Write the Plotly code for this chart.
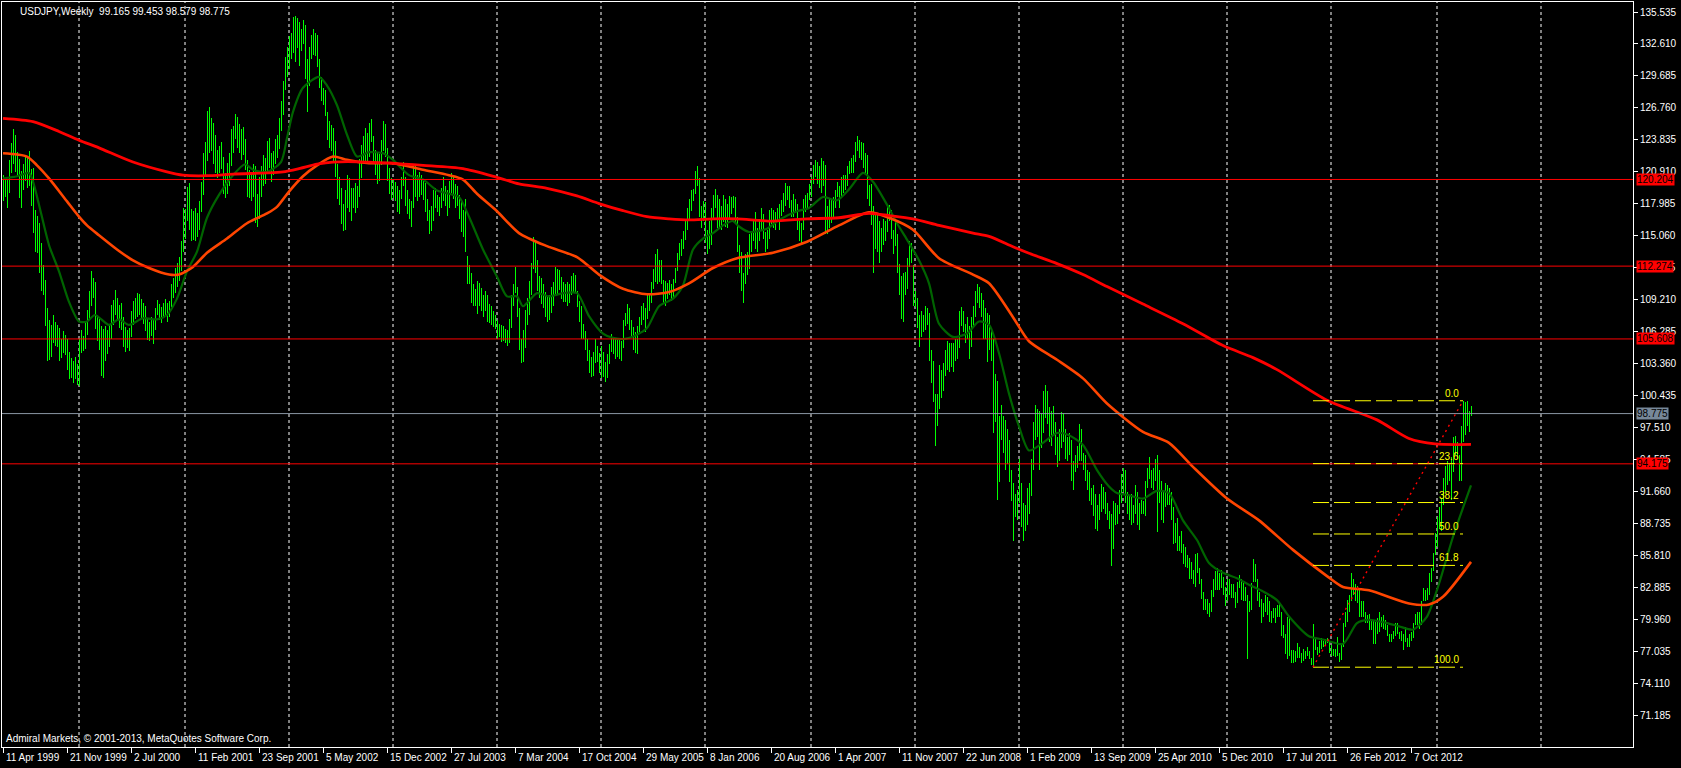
import numpy as np
import pandas as pd
import plotly.graph_objects as go

FIRST_BAR = "1999-04-11"
TITLE_TEXT = "USDJPY,Weekly  99.165 99.453 98.579 98.775"
COPYRIGHT_TEXT = "Admiral Markets, \u00a9 2001-2013, MetaQuotes Software Corp."

# ---------------- weekly highs / lows (one value per weekly bar) ----------------
high_1999 = [120.6,120.3,120.2,122.0,123.5,124.8,124.3,122.7,122.1,121.0,121.6,122.4,122.3,122.8,121.2,121.3,117.4,116.9,116.2,114.4,112.4,111.0,108.4,107.3,106.9,107.8,107.2,106.9,106.6,105.6,106.3,106.0,105.6,104.4,103.9,103.6,104.0,103.3]
low_1999 = [118.2,118.6,117.6,119.0,120.8,121.6,120.9,120.6,118.5,117.6,119.2,120.1,119.4,119.6,117.8,115.3,113.6,113.5,111.6,110.0,109.6,106.8,103.6,103.7,104.0,105.2,105.0,104.9,103.6,103.9,104.3,104.1,102.8,101.9,102.0,101.6,101.9,101.4]
high_2000 = [105.6,106.4,105.9,107.2,108.3,110.0,111.8,111.2,110.8,107.8,107.4,106.8,106.5,106.8,106.4,106.9,108.7,109.2,110.1,109.4,108.7,108.9,107.6,106.7,106.4,106.6,108.2,109.1,109.4,109.8,109.7,109.3,108.9,108.6,107.4,107.2,107.6,107.3,108.4,109.2,108.8,108.5,108.9,109.3,108.9,109.1,110.6,111.2,112.1,112.6,113.1,114.6,117.6]
low_2000 = [101.3,104.3,104.5,104.7,106.0,107.3,108.6,109.4,106.5,105.4,104.6,102.2,102.0,103.6,104.2,104.9,105.6,106.9,107.8,107.4,106.6,106.4,104.9,104.4,104.8,104.5,105.8,106.9,107.4,107.6,107.8,107.4,107.0,106.3,105.5,105.4,105.9,105.1,106.4,107.8,107.3,107.1,107.5,107.7,107.2,107.6,108.5,109.4,109.8,110.4,110.9,111.8,113.6]
high_2001 = [117.5,119.5,119.9,117.5,117.3,117.6,117.1,118.2,120.0,122.6,123.6,126.5,126.8,125.8,125.4,124.3,122.9,123.3,123.6,122.3,120.8,121.7,122.6,124.8,125.1,126.2,125.9,125.3,124.8,125.0,123.9,122.0,121.1,120.9,121.6,121.4,118.9,120.4,121.4,122.4,122.2,123.7,124.0,122.6,122.8,123.9,124.3,125.8,127.4,129.2,131.4,132.3]
low_2001 = [114.8,116.4,115.6,114.6,114.7,114.6,114.9,115.6,117.2,118.8,120.6,121.9,122.6,122.8,121.6,120.8,120.3,120.8,121.2,118.9,118.5,118.9,119.6,121.4,122.6,123.9,123.1,122.6,122.0,122.4,121.1,118.6,118.5,118.2,118.6,116.2,115.9,116.6,118.6,119.6,119.8,120.9,121.3,120.0,120.6,121.6,122.2,123.0,124.6,126.1,128.4,129.6]
high_2002 = [133.3,133.6,135.1,135.2,135.0,134.6,134.0,134.8,134.3,131.2,132.3,133.4,134.0,133.6,133.4,131.2,129.6,128.6,128.4,126.4,125.6,125.2,124.9,123.7,121.6,120.4,119.4,118.0,119.2,120.6,120.3,119.4,119.4,119.9,119.6,122.1,123.4,124.2,124.9,124.5,125.4,125.7,124.2,122.9,122.6,122.5,123.8,125.6,125.3,123.1,121.3,120.3]
low_2002 = [130.3,131.2,131.8,131.0,132.2,130.6,132.0,132.6,129.4,126.4,128.8,131.2,131.6,131.5,130.5,128.6,127.4,127.0,126.0,123.8,123.1,122.8,121.9,120.4,118.4,117.9,116.1,115.5,115.6,117.6,117.2,116.4,117.6,117.1,117.6,118.6,120.3,121.6,121.8,121.6,122.3,123.6,121.6,120.6,119.8,120.1,121.5,122.8,122.3,120.1,118.9,118.3]
high_2003 = [120.2,120.0,119.6,119.2,120.4,121.8,120.4,119.2,118.4,118.2,121.6,121.4,120.6,120.9,120.6,120.2,119.9,118.4,117.4,117.8,119.2,119.4,118.8,118.6,119.4,120.4,119.6,119.2,120.1,120.8,120.4,119.8,119.6,118.8,118.2,117.4,118.4,113.2,112.4,111.6,110.6,110.2,110.9,110.7,110.3,109.6,110.0,109.6,108.8,108.6,108.2,107.8]
low_2003 = [118.5,118.2,117.2,117.0,118.4,119.6,117.8,117.0,116.6,115.9,117.6,118.6,118.2,118.6,118.8,118.3,117.2,116.4,115.2,115.5,116.4,117.6,117.2,116.9,117.6,118.2,117.8,116.9,117.6,119.0,118.4,117.6,117.8,116.6,115.4,114.9,113.6,110.6,110.6,108.9,108.6,108.6,107.9,108.6,108.2,107.6,108.2,107.2,107.1,106.9,106.7,106.5]
high_2004 = [107.3,107.0,106.9,106.8,106.5,106.4,107.4,109.6,110.6,112.2,110.4,108.4,105.6,106.4,108.3,109.4,110.9,112.6,114.9,114.6,112.8,111.4,111.2,110.6,109.9,109.5,109.6,110.4,110.8,112.2,112.0,111.9,111.3,110.8,110.6,110.8,110.6,111.4,111.6,111.5,110.0,109.1,108.6,107.0,106.3,105.6,104.6,104.0,104.4,105.6,105.0,104.3]
low_2004 = [105.6,105.8,105.3,105.4,105.2,105.0,105.2,106.6,108.6,109.8,107.6,104.6,103.4,103.5,104.8,106.9,107.8,109.6,112.0,111.6,110.0,109.4,108.8,108.4,107.6,107.2,107.3,108.0,108.6,109.6,109.7,110.1,109.3,109.0,109.0,108.6,108.9,109.6,109.8,109.9,108.5,107.2,105.6,105.6,104.6,103.6,102.5,102.1,102.2,103.4,103.5,102.5]
high_2005 = [105.0,104.4,103.5,104.2,105.1,106.1,105.8,105.6,105.6,105.5,105.4,107.3,108.0,108.8,108.4,107.3,106.7,106.2,106.8,107.6,108.6,108.9,108.4,109.7,109.6,110.8,112.0,113.4,113.8,112.8,112.8,111.0,110.9,110.7,111.0,110.6,111.1,112.1,113.5,114.4,114.8,115.5,116.4,117.6,118.4,119.2,119.3,121.0,121.4,120.3,117.8,118.2]
low_2005 = [102.0,102.1,101.7,102.0,103.3,104.4,104.2,103.8,104.0,103.8,103.6,104.8,106.8,107.0,106.4,105.8,104.6,104.3,104.2,106.2,106.9,107.3,106.2,107.4,108.2,108.9,110.2,110.8,110.6,110.8,110.6,108.8,108.6,109.3,109.6,109.1,109.4,110.7,111.8,112.8,113.2,113.8,114.7,115.6,116.6,117.3,118.2,118.9,119.6,116.8,115.8,116.4]
high_2006 = [118.1,115.6,116.4,117.6,118.8,119.3,118.8,118.4,117.8,118.8,118.4,118.0,118.7,118.6,118.7,118.6,116.8,114.2,113.6,111.6,113.4,113.6,115.2,115.4,116.6,117.2,115.8,116.6,117.6,117.0,115.4,115.6,117.4,117.6,117.4,117.2,117.6,118.0,118.3,119.0,119.9,119.6,119.6,118.3,118.9,118.4,118.0,116.4,116.2,118.4,118.8,119.0,119.8]
low_2006 = [114.4,113.4,113.8,114.2,116.6,117.6,115.8,115.8,115.6,116.3,115.9,115.8,116.6,117.0,117.6,116.2,113.6,111.6,110.0,108.9,110.6,111.5,112.0,113.6,114.6,113.8,113.6,114.6,115.6,114.8,113.6,113.8,114.8,116.1,115.8,115.6,116.3,115.6,116.9,117.2,117.8,118.3,117.6,116.8,116.8,117.2,115.6,114.6,114.4,115.6,117.2,117.6,118.3]
high_2007 = [120.4,121.5,122.0,121.8,121.4,122.2,121.9,121.5,117.8,118.4,118.4,118.6,119.2,120.0,119.6,120.4,120.6,120.6,121.4,121.9,122.2,122.4,123.6,124.2,123.8,123.6,123.5,122.6,122.4,119.7,119.8,117.8,117.2,117.0,116.4,115.8,116.6,116.4,117.8,117.9,117.4,115.6,116.4,115.2,112.5,111.4,111.6,111.7,113.0,114.6,114.4,112.4]
low_2007 = [118.6,119.8,120.4,119.8,119.4,119.0,119.6,115.2,115.2,115.8,116.2,116.8,117.6,118.6,117.6,118.6,119.0,119.2,119.6,120.7,120.8,120.8,121.8,122.8,122.2,122.0,121.3,120.8,118.4,117.8,116.0,111.6,113.8,113.6,112.6,113.6,114.2,114.6,115.4,116.4,114.8,113.4,114.1,111.6,109.6,107.4,107.2,109.6,110.2,112.2,112.6,108.6]
high_2008 = [110.0,109.4,107.8,108.2,107.8,108.6,108.4,108.0,104.6,103.6,100.6,100.6,103.2,102.8,103.4,104.6,105.4,105.2,105.2,105.2,105.6,105.6,108.2,108.5,108.2,107.0,107.6,106.8,107.6,108.6,110.0,110.6,110.4,109.8,109.2,108.4,108.0,107.8,106.6,105.6,102.4,101.8,98.6,99.6,98.6,98.2,97.4,96.4,93.6,92.4,91.4,91.8]
low_2008 = [108.5,106.6,104.9,105.8,106.2,106.4,106.9,103.6,101.6,99.8,95.8,97.6,99.2,100.2,100.8,102.2,102.8,102.6,103.0,102.6,103.6,103.8,104.8,106.8,106.2,105.2,105.6,103.8,104.9,106.6,107.6,108.9,108.4,107.6,105.6,105.6,103.5,104.6,103.6,97.0,98.0,90.9,92.5,96.4,95.2,93.6,94.2,92.5,90.8,87.1,89.3,89.0]
high_2009 = [94.6,92.4,90.6,90.4,92.0,92.4,94.6,98.0,99.6,99.2,99.0,98.8,100.8,101.4,100.8,99.4,99.0,99.5,98.0,96.6,97.4,98.9,98.8,97.4,96.6,97.0,96.4,94.4,95.0,95.8,97.8,97.4,95.2,95.0,93.6,93.4,92.0,92.2,91.4,90.4,91.4,92.3,92.1,91.6,90.6,89.9,89.6,90.8,90.6,90.4,91.8,93.2]
low_2009 = [90.6,88.4,87.1,88.0,88.6,89.6,91.2,93.6,96.4,96.6,93.6,95.6,97.0,98.4,97.8,96.2,95.8,96.8,95.0,93.9,94.4,95.6,96.2,94.6,94.4,95.0,92.6,91.8,93.4,93.8,94.4,94.4,93.6,92.6,91.8,90.8,90.4,89.4,88.2,88.0,89.0,89.8,90.0,89.6,89.0,88.2,84.8,86.4,88.6,88.7,89.6,90.6]
high_2010 = [93.8,93.6,91.6,91.2,91.4,90.4,92.2,91.6,90.6,90.9,90.8,92.6,93.8,94.8,93.6,93.8,94.6,95.0,93.6,92.6,91.6,92.4,92.2,92.0,91.6,90.2,88.8,89.2,87.6,88.0,86.8,86.6,85.8,85.6,85.2,84.5,85.9,86.0,84.6,83.6,82.4,81.8,81.8,81.4,82.6,83.6,84.4,84.6,84.2,84.5,83.8,82.9]
low_2010 = [91.6,90.6,89.6,89.0,88.6,88.8,89.6,88.6,88.1,89.6,89.6,89.4,92.0,92.8,92.0,91.8,92.6,87.9,90.6,89.0,88.8,90.2,90.4,90.4,89.0,86.8,86.9,86.2,86.2,86.0,85.0,84.7,84.6,83.6,83.6,83.2,82.9,84.2,83.2,81.8,80.8,80.8,80.4,80.2,80.6,82.0,82.6,82.6,82.6,82.8,82.2,81.2]
high_2011 = [83.6,83.6,83.2,83.2,82.4,83.4,84.0,83.6,83.3,82.9,82.2,81.6,83.3,85.5,85.0,83.6,82.4,81.8,81.4,82.2,82.0,81.6,80.7,81.0,81.0,81.3,81.4,80.6,79.4,78.6,80.2,80.2,77.1,77.1,77.0,77.8,77.4,76.9,77.2,77.0,77.4,77.0,76.4,79.5,78.2,77.4,78.0,78.2,78.0,78.1,78.2,78.0]
low_2011 = [81.6,82.2,81.9,81.9,81.0,81.4,82.8,81.7,81.6,81.6,76.3,80.6,80.8,83.4,83.4,81.6,81.1,79.6,80.2,80.6,80.3,79.7,79.6,80.1,79.6,80.2,80.2,78.4,78.2,76.8,76.3,76.6,75.9,75.9,76.0,76.4,76.4,75.9,76.1,76.3,76.6,76.3,75.8,75.56,77.1,76.7,76.9,77.2,77.4,77.6,77.8,76.9]
high_2012 = [77.6,77.2,77.2,78.3,76.9,77.8,79.6,80.6,81.7,82.2,84.2,83.6,83.2,83.0,82.6,81.6,81.6,80.6,80.3,80.4,79.9,79.8,79.7,80.1,80.6,80.2,80.3,79.9,79.4,78.6,78.6,78.9,79.6,79.6,78.8,78.9,78.6,79.2,78.2,78.6,78.8,79.6,80.4,80.6,80.6,81.6,82.8,82.6,82.8,84.2,84.6,86.0,87.8]
low_2012 = [76.6,76.6,76.5,76.6,76.0,76.2,77.4,79.2,79.7,80.6,81.6,82.2,81.6,81.4,80.2,80.2,80.2,79.6,79.6,79.0,79.0,77.7,77.7,78.6,78.8,79.2,79.1,79.0,78.4,77.9,77.9,78.1,78.4,78.6,78.1,78.0,77.1,77.9,77.4,77.4,78.0,78.2,79.4,79.4,79.1,79.4,81.6,81.6,81.7,82.2,83.4,84.4,85.8]
high_2013 = [89.3,90.2,91.0,92.9,94.0,94.4,94.2,94.8,96.6,96.7,96.2,95.0,97.6,99.95,99.8,99.9,99.0,99.453]
low_2013 = [86.6,88.2,88.0,90.4,91.6,92.2,92.6,90.9,93.4,95.0,94.6,92.6,92.6,96.2,96.8,97.6,97.1,98.579]

# ---------------- moving averages (week index, value) ----------------
ma_fast_week = [0,7,13,15,18,23,28,33,38,42,46,53,58,63,70,77,82,87,92,97,102,108,115,121,125,132,139,142,145,150,158,162,167,172,177,183,190,195,203,210,217,223,228,233,240,247,252,257,260,267,273,280,287,293,300,305,310,317,322,328,335,340,345,350,355,360,365,368,373,382,388,397,403,410,417,423,430,435,442,447,452,458,463,468,475,482,488,493,498,503,508,513,520,527,533,540,547,553,557,563,570,577,583,590,597,603,610,617,623,630,637,643,653,660,670,677,683,692,698,705,712,718,725,734]
ma_fast_value = [120.3,120.5,120.8,120.0,117.9,114.2,111.8,109.0,107.2,107.2,107.8,106.9,107.4,106.9,107.5,107.4,107.8,109.3,111.8,113.6,116.7,118.8,120.6,121.6,121.1,120.9,121.8,124.0,126.4,128.6,129.6,128.8,127.0,124.3,122.3,122.7,122.6,122.0,120.6,120.2,119.2,118.9,118.6,116.8,113.8,111.3,109.5,109.5,108.6,109.8,109.5,109.8,109.8,107.7,106.1,105.7,105.6,106.0,106.6,108.6,109.3,110.5,113.8,114.8,115.3,116.0,116.4,115.9,115.4,115.7,116.5,117.3,117.6,118.6,118.3,119.3,120.8,120.0,117.9,116.2,114.7,112.8,110.7,107.0,105.8,106.1,107.2,106.9,104.3,100.6,97.6,95.4,96.1,97.0,96.8,95.9,93.6,92.1,91.5,91.3,91.0,91.7,91.5,89.0,87.2,85.1,84.2,83.7,83.1,82.5,81.7,80.2,78.4,78.1,77.7,79.6,79.9,79.6,79.3,79.0,80.2,83.2,87.5,92.2]
ma_mid_week = [0,12,17,23,32,38,42,48,57,65,73,83,88,95,102,112,122,132,137,143,150,157,165,172,183,195,210,223,230,237,247,258,272,287,298,310,322,333,343,355,367,385,402,418,433,443,455,468,485,493,505,513,527,540,552,570,583,595,612,628,645,662,670,683,703,713,720,734]
ma_mid_value = [122.6,122.3,121.5,120.3,118.2,116.8,116.0,115.1,113.8,112.8,112.1,111.5,111.5,112.2,113.5,114.8,116.2,117.1,117.7,119.1,120.5,121.5,122.3,122.0,121.7,121.7,121.1,120.6,120.2,118.9,117.3,115.3,114.1,113.1,111.5,110.2,109.7,109.9,110.7,112.1,113.0,113.5,114.5,116.0,117.2,116.7,115.6,113.0,111.5,110.7,107.6,105.4,103.7,102.0,99.7,97.1,96.1,93.9,91.0,89.0,86.3,83.9,82.9,82.6,81.4,81.3,82.0,85.2]
ma_slow_week = [0,15,28,38,48,65,82,90,102,115,132,140,148,157,165,183,210,230,247,258,272,287,298,310,322,333,343,355,367,385,402,418,433,443,455,468,485,493,505,513,527,540,552,570,590,610,625,637,662,687,703,716,734]
ma_slow_value = [125.8,125.5,124.6,123.8,123.1,121.8,120.9,120.6,120.55,120.7,120.8,120.9,121.2,121.6,121.8,121.8,121.5,121.2,120.4,119.8,119.4,118.7,118.0,117.35,116.8,116.6,116.5,116.6,116.6,116.4,116.6,116.7,117.1,116.9,116.6,116.0,115.3,115.0,114.05,113.45,112.5,111.5,110.4,108.8,107.0,105.0,103.9,102.8,100.0,98.2,96.5,96.0,95.95]

# ---------------- objects ----------------
level_lines = [120.204, 112.274, 105.608, 94.175]
current_price = 98.775
fib_low_week, fib_low = 655, 75.56
fib_high_week, fib_high = 730, 99.95
fib_levels = [0.0, 23.6, 38.2, 50.0, 61.8, 100.0]

y_tick_values = [135.535,132.610,129.685,126.760,123.835,120.910,117.985,115.060,112.135,109.210,106.285,103.360,100.435,97.510,94.585,91.660,88.735,85.810,82.885,79.960,77.035,74.110,71.185]
x_label_dates = ["1999-04-11","1999-11-21","2000-07-02","2001-02-11","2001-09-23","2002-05-05","2002-12-15","2003-07-27","2004-03-07","2004-10-17","2005-05-29","2006-01-08","2006-08-20","2007-04-01","2007-11-11","2008-06-22","2009-02-01","2009-09-13","2010-04-25","2010-12-05","2011-07-17","2012-02-26","2012-10-07"]
x_label_text = ["11 Apr 1999","21 Nov 1999","2 Jul 2000","11 Feb 2001","23 Sep 2001","5 May 2002","15 Dec 2002","27 Jul 2003","7 Mar 2004","17 Oct 2004","29 May 2005","8 Jan 2006","20 Aug 2006","1 Apr 2007","11 Nov 2007","22 Jun 2008","1 Feb 2009","13 Sep 2009","25 Apr 2010","5 Dec 2010","17 Jul 2011","26 Feb 2012","7 Oct 2012"]
year_grid_dates = ["2000-01-02","2001-01-07","2002-01-06","2003-01-05","2004-01-04","2005-01-02","2006-01-01","2007-01-07","2008-01-06","2009-01-04","2010-01-03","2011-01-02","2012-01-01","2013-01-06","2014-01-05"]

# ---------------- build ----------------
highs = (high_1999 + high_2000 + high_2001 + high_2002 + high_2003 + high_2004 + high_2005 +
         high_2006 + high_2007 + high_2008 + high_2009 + high_2010 + high_2011 + high_2012 + high_2013)
lows = (low_1999 + low_2000 + low_2001 + low_2002 + low_2003 + low_2004 + low_2005 +
        low_2006 + low_2007 + low_2008 + low_2009 + low_2010 + low_2011 + low_2012 + low_2013)
assert len(highs) == len(lows)

start = pd.Timestamp(FIRST_BAR)


def week_date(w):
    return start + pd.to_timedelta(np.asarray(w, dtype=float) * 7, unit="D")


dates = week_date(np.arange(len(highs)))
hi = np.array(highs)
lo = np.array(lows)
WEEK_MS = 7 * 24 * 3600 * 1000

fig = go.Figure()
fig.add_trace(go.Bar(x=dates, y=hi - lo, base=lo, width=0.5 * WEEK_MS,
                     marker=dict(color="#00ff00", line=dict(width=0)), hoverinfo="skip"))
fig.add_trace(go.Scatter(x=week_date(ma_fast_week), y=ma_fast_value, mode="lines",
                         line=dict(color="#006400", width=2.2, shape="spline", smoothing=0.7), hoverinfo="skip"))
fig.add_trace(go.Scatter(x=week_date(ma_mid_week), y=ma_mid_value, mode="lines",
                         line=dict(color="#ff4500", width=2.6, shape="spline", smoothing=0.7), hoverinfo="skip"))
fig.add_trace(go.Scatter(x=week_date(ma_slow_week), y=ma_slow_value, mode="lines",
                         line=dict(color="#ff0000", width=2.8, shape="spline", smoothing=0.7), hoverinfo="skip"))

shapes = []
for d in year_grid_dates:
    shapes.append(dict(type="line", xref="x", yref="paper", x0=d, x1=d, y0=0, y1=1, layer="below",
                       line=dict(color="white", width=1, dash="3px,3px")))
for v in level_lines:
    shapes.append(dict(type="line", xref="paper", yref="y", x0=0, x1=1, y0=v, y1=v,
                       line=dict(color="#ff0000", width=1)))
shapes.append(dict(type="line", xref="paper", yref="y", x0=0, x1=1, y0=current_price, y1=current_price,
                   line=dict(color="#8a96a3", width=1)))
fx0 = week_date(fib_low_week)
fx1 = week_date(fib_high_week)
fib_prices = [fib_high - (fib_high - fib_low) * lv / 100.0 for lv in fib_levels]
for p in fib_prices:
    shapes.append(dict(type="line", xref="x", yref="y", x0=fx0, x1=fx1, y0=p, y1=p,
                       line=dict(color="#ffff00", width=1, dash="16px,5px")))
shapes.append(dict(type="line", xref="x", yref="y", x0=fx0, x1=fx1, y0=fib_low, y1=fib_high,
                   line=dict(color="#ff0000", width=1.4, dash="2px,4px")))

FONT = "Liberation Sans, Arial, sans-serif"
annotations = []
for d, t in zip(x_label_dates, x_label_text):
    annotations.append(dict(x=d, y=0, xref="x", yref="paper", text=t, showarrow=False,
                            xanchor="left", yanchor="top", xshift=1, yshift=-3,
                            font=dict(family=FONT, size=10, color="white")))
for lv, p in zip(fib_levels, fib_prices):
    annotations.append(dict(x=fx1, y=p, xref="x", yref="y", text=f"{lv:.1f}", showarrow=False,
                            xanchor="right", yanchor="bottom", xshift=-2, yshift=0,
                            font=dict(family=FONT, size=10, color="#ffff00")))
for v in level_lines:
    annotations.append(dict(x=1, y=v, xref="paper", yref="y", text=f"{v:.3f}", showarrow=False,
                            xanchor="left", yanchor="middle", xshift=3, bgcolor="#ff0000", borderpad=0,
                            font=dict(family=FONT, size=10, color="black")))
annotations.append(dict(x=1, y=current_price, xref="paper", yref="y", text=f"{current_price:.3f}",
                        showarrow=False, xanchor="left", yanchor="middle", xshift=3, bgcolor="#778899",
                        borderpad=0, font=dict(family=FONT, size=10, color="black")))
annotations.append(dict(x=0, y=1, xref="paper", yref="paper", text=TITLE_TEXT, showarrow=False,
                        xanchor="left", yanchor="top", xshift=16, yshift=-2,
                        font=dict(family=FONT, size=10, color="white")))
annotations.append(dict(x=0, y=0, xref="paper", yref="paper", text=COPYRIGHT_TEXT, showarrow=False,
                        xanchor="left", yanchor="bottom", xshift=2, yshift=1,
                        font=dict(family=FONT, size=10, color="white")))

x_min = start - pd.Timedelta(days=3.5)
x_max = start + pd.Timedelta(days=7 * 815)

fig.update_layout(
    width=1681, height=768,
    margin=dict(l=2, r=48, t=2, b=21, pad=0),
    paper_bgcolor="black", plot_bgcolor="black",
    showlegend=False, hovermode=False, barmode="overlay", bargap=0,
    font=dict(family=FONT, size=10, color="white"),
    shapes=shapes, annotations=annotations,
    xaxis=dict(type="date", range=[str(x_min), str(x_max)], showgrid=False, zeroline=False,
               showline=True, linecolor="white", linewidth=1, mirror=True,
               ticks="outside", ticklen=5, tickcolor="white", tickwidth=1,
               tickvals=x_label_dates, showticklabels=False, fixedrange=True),
    yaxis=dict(side="right", range=[68.256, 136.45], showgrid=False, zeroline=False,
               showline=True, linecolor="white", linewidth=1, mirror=True,
               ticks="outside", ticklen=4, tickcolor="white", tickwidth=1,
               tickvals=y_tick_values, ticktext=[f"{v:.3f}" for v in y_tick_values],
               tickfont=dict(family=FONT, size=10, color="white"), fixedrange=True),
)

fig.write_html("out.html", config={"displayModeBar": False, "staticPlot": True},
               post_script="document.body.style.margin='0px';document.body.style.background='#000';document.body.style.overflow='hidden';")
